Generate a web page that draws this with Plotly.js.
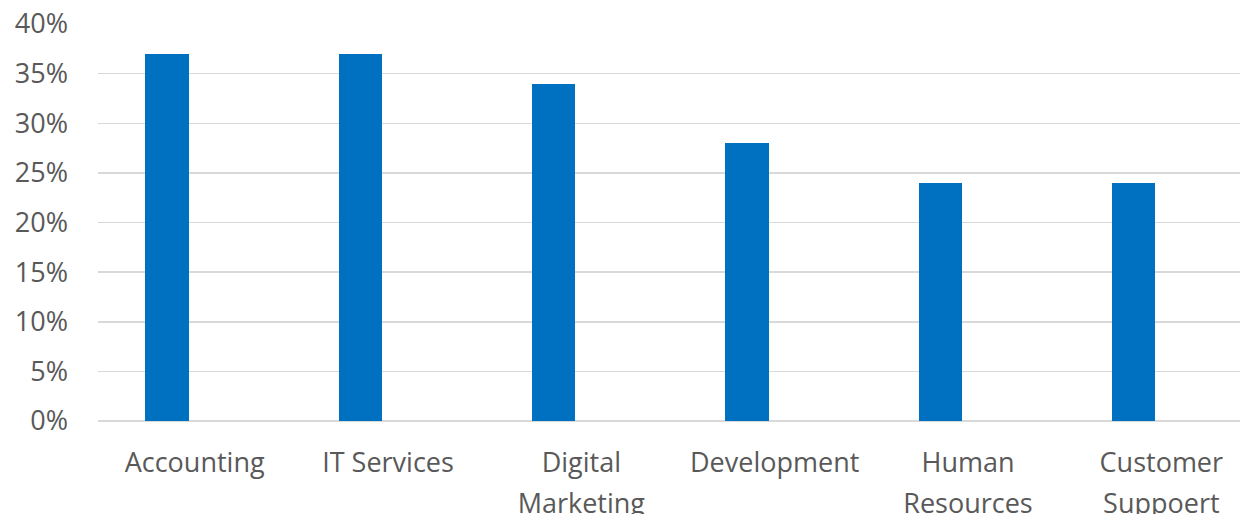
<!DOCTYPE html>
<html><head><meta charset="utf-8">
<script src="https://cdn.plot.ly/plotly-3.0.1.min.js"></script>
<style>html,body{margin:0;padding:0;overflow:hidden;background:#fff;}#chart{width:1260px;height:514px;}</style>
</head><body><div id="chart"></div>
<script>
const categories = ["Accounting", "IT Services", "Digital Marketing", "Development", "Human Resources", "Customer Suppoert"];
const firstLines = ["Accounting", "IT Services", "Digital", "Development", "Human", "Customer"];
const secondLines = ["", "", "Marketing", "", "Resources", "Suppoert"];
const values = [0.37, 0.37, 0.34, 0.28, 0.24, 0.24];
const yTicks = [0, 0.05, 0.10, 0.15, 0.20, 0.25, 0.30, 0.35, 0.40];

const font = {family: "Open Sans, sans-serif", size: 27, color: "#595959"};
const idx = categories.map((c, i) => i);

const trace = {
  type: "bar",
  x: idx,
  y: values,
  width: 0.2244,
  offset: -0.2554,
  marker: {color: "#0070C0"},
  hoverinfo: "skip",
  name: "Share"
};

const helper = {
  type: "scatter",
  x: idx,
  y: values,
  xaxis: "x2",
  yaxis: "y",
  mode: "markers",
  marker: {opacity: 0, size: 1},
  hoverinfo: "skip",
  showlegend: false
};

const layout = {
  width: 1260, height: 514,
  margin: {l: 98, r: 1.5, t: 24, b: 93},
  paper_bgcolor: "#fff", plot_bgcolor: "#fff",
  showlegend: false,
  bargap: 0,
  font: font,
  xaxis: {
    range: [-0.5, 5.5],
    tickmode: "array", tickvals: idx, ticktext: firstLines,
    showgrid: false, zeroline: false,
    showline: false, ticks: "",
    tickfont: font,
    ticklabelstandoff: 23,
    fixedrange: true
  },
  xaxis2: {
    overlaying: "x", anchor: "y", side: "bottom",
    range: [-0.5, 5.5],
    tickmode: "array", tickvals: idx, ticktext: secondLines,
    showgrid: false, zeroline: false, showline: false, ticks: "",
    tickfont: font,
    ticklabelstandoff: 64,
    fixedrange: true
  },
  yaxis: {
    range: [0, 0.40],
    tickmode: "array", tickvals: yTicks,
    tickformat: ".0%",
    showgrid: true, gridcolor: "#d9d9d9", gridwidth: 1.5,
    zeroline: true, zerolinecolor: "#d9d9d9", zerolinewidth: 1.5,
    showline: false, ticks: "",
    tickfont: font,
    ticklabelstandoff: 29,
    fixedrange: true
  }
};

Plotly.newPlot("chart", [trace, helper], layout, {displayModeBar: false, staticPlot: true});
</script>
</body></html>
